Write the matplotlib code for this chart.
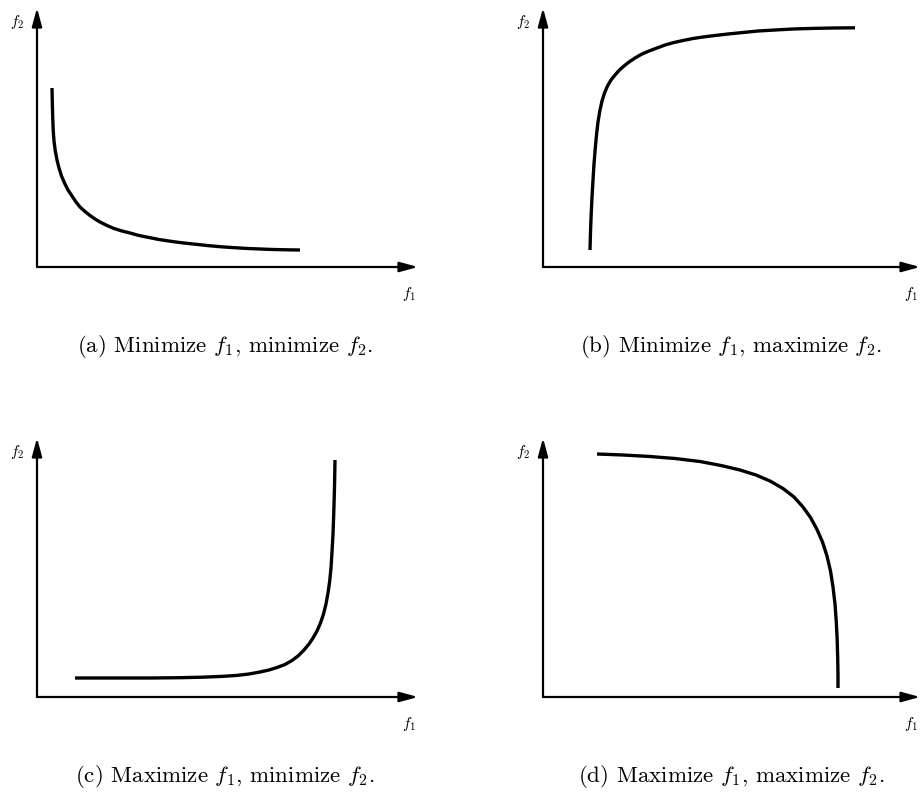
import matplotlib.pyplot as plt

plt.rcParams['mathtext.fontset'] = 'cm'
plt.rcParams['axes.unicode_minus'] = False

# curve points in each panel, measured in pixels from the axis origin
a_f1 = [15, 15.3, 15.7, 16.2, 17, 18.3, 20, 22, 24.5, 27.5, 31, 35, 39, 43, 48, 53, 58, 63, 70, 77, 85, 93,
        102, 112, 122, 133, 145, 158, 170, 183, 196, 209, 223, 236, 250, 263]
a_f2 = [179, 165, 150, 137, 126, 116, 107, 99, 91, 84, 77, 71, 65, 60, 55.5, 51.5, 48, 45, 41.5, 38.5, 36, 34,
        31.5, 29.5, 27.5, 25.8, 24.2, 22.8, 21.5, 20.3, 19.4, 18.6, 18, 17.5, 17.2, 17]

b_f1 = [47, 47.5, 48.2, 49, 50, 51, 52.2, 53.5, 55, 56.8, 59, 61.5, 64.5, 68, 72, 76.5, 81, 86, 92, 99,
        106, 114, 122, 131, 140, 150, 160, 172, 185, 200, 215, 232, 250, 270, 290, 312]
b_f2 = [17, 35, 53, 70, 87, 103, 118, 132, 145, 156, 166, 174, 181, 187, 192, 197, 201, 205, 209, 213,
        216, 219, 222, 224.5, 226.5, 228.5, 230, 231.5, 233, 234.5, 236, 237, 238, 238.6, 239, 239.2]

c_f1 = [38, 60, 83, 113, 143, 165, 185, 200, 212, 223, 232, 240, 248, 255, 261, 267, 272, 276, 280, 283.5,
        286.5, 289, 291, 292.7, 294, 295, 296, 296.8, 297.5, 298]
c_f2 = [19, 19, 19, 19, 19.3, 19.8, 20.6, 21.6, 23, 25, 27, 29.5, 32.5, 36.5, 41, 47, 53, 59, 66, 74,
        83, 93, 104, 116, 129, 145, 163, 185, 210, 237]

d_f1 = [54, 80, 107, 132, 157, 178, 197, 213, 227, 240, 251, 260, 267.5, 274, 279.5, 284, 287.5, 290, 292,
        293.3, 294.2, 294.7, 295, 295]
d_f2 = [243, 242, 240.5, 238.5, 235.5, 231.5, 227, 222, 216, 208.5, 200, 190, 179.5, 167.5, 155, 141, 126,
        110, 93, 75, 57, 39, 22, 9]

captions = ['(a) Minimize $f_1$, minimize $f_2$.',
            '(b) Minimize $f_1$, maximize $f_2$.',
            '(c) Maximize $f_1$, minimize $f_2$.',
            '(d) Maximize $f_1$, maximize $f_2$.']

W, H = 922, 809
fig = plt.figure(figsize=(W / 100, H / 100), dpi=100)

# origin of each panel in image pixels, and axis lengths
origins = [(37, 267), (543, 267), (37, 697), (543, 697)]
xlen = [381, 377, 381, 377]
ylen = [259, 259, 259, 259]
curves = [(a_f1, a_f2), (b_f1, b_f2), (c_f1, c_f2), (d_f1, d_f2)]

for i, ((ox, oy), (cx, cy)) in enumerate(zip(origins, curves)):
    ax = fig.add_axes([ox / W, (H - oy) / H, xlen[i] / W, ylen[i] / H])
    ax.set_xlim(0, xlen[i])
    ax.set_ylim(0, ylen[i])
    ax.axis('off')
    arrow = dict(arrowstyle='-|>,head_length=1.1,head_width=0.3', lw=1.6,
                 color='black', mutation_scale=10, shrinkA=0, shrinkB=0)
    ax.annotate('', xy=(xlen[i], 0), xytext=(0, 0), arrowprops=arrow,
                annotation_clip=False)
    ax.annotate('', xy=(0, ylen[i]), xytext=(0, 0), arrowprops=arrow,
                annotation_clip=False)
    ax.plot(cx, cy, color='black', lw=2.4, solid_capstyle='butt', clip_on=False)
    ax.text(-20, ylen[i] - 14, '$f_2$', fontsize=11, ha='center', va='center')
    ax.text(xlen[i] - 9, -27, '$f_1$', fontsize=11, ha='center', va='center')
    ax.text(188, -80, captions[i], fontsize=16.5, family='cmr10',
            ha='center', va='center')

fig.savefig('out.png', dpi=100)
